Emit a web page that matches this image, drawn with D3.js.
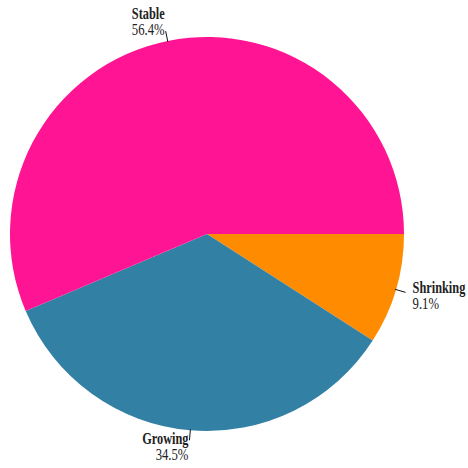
<!DOCTYPE html>
<html>
<head>
<meta charset="utf-8">
<script src="https://cdn.jsdelivr.net/npm/d3@7"></script>
<style>
  html, body { margin: 0; padding: 0; background: #fff; }
  svg { display: block; }
  .name { font-family: "Liberation Serif", serif; font-weight: bold; font-size: 16px; fill: #222; }
  .pct { font-family: "Liberation Serif", serif; font-size: 16.5px; fill: #222; }
</style>
</head>
<body>
<svg id="chart" width="468" height="468"></svg>
<script>
// Share of items by trend
const categories = ["Shrinking", "Growing", "Stable"];
const shares = [9.1, 34.5, 56.4];
const colors = ["#FF8C00", "#3380A5", "#FF1493"];

const width = 468, height = 468;
const cx = 207, cy = 234, radius = 197;

const svg = d3.select("#chart");
const g = svg.append("g").attr("transform", `translate(${cx},${cy})`);

const data = categories.map((c, i) => ({ category: c, value: shares[i], color: colors[i] }));

const pie = d3.pie()
  .value(d => d.value)
  .sort(null)
  .startAngle(Math.PI / 2)
  .endAngle(Math.PI / 2 + 2 * Math.PI);

const arc = d3.arc().innerRadius(0).outerRadius(radius);
const arcs = pie(data);

g.selectAll("path.slice")
  .data(arcs)
  .join("path")
  .attr("class", "slice")
  .attr("d", arc)
  .attr("fill", d => d.data.color);

// leader lines and condensed labels
const lineIn = radius - 1, lineOut = radius + 10;
arcs.forEach(a => {
  const mid = (a.startAngle + a.endAngle) / 2;
  const ux = Math.sin(mid), uy = -Math.cos(mid);
  const x1 = ux * lineIn, y1 = uy * lineIn;
  const x2 = ux * lineOut, y2 = uy * lineOut;
  g.append("line")
    .attr("x1", x1).attr("y1", y1).attr("x2", x2).attr("y2", y2)
    .attr("stroke", "#111").attr("stroke-width", 1);

  const side = Math.abs(ux) > 0.5 ? (ux > 0 ? 1 : -1) : 0;
  let tx, anchor;
  if (side === 1) { tx = x2 + 7; anchor = "start"; }
  else if (side === -1) { tx = x2 - 7; anchor = "end"; }
  else { tx = x2 - 1; anchor = "end"; }
  const base = y2 + (uy < -0.5 ? -12 : uy > 0.5 ? 4 : 1);

  const t = g.append("text")
    .attr("text-anchor", anchor)
    .attr("transform", `translate(${tx},${base}) scale(0.77,1)`);
  t.append("tspan").attr("class", "name").attr("x", 0).attr("y", 0).text(a.data.category);
  t.append("tspan").attr("class", "pct").attr("x", 0).attr("y", 16).text(d3.format(".1f")(a.data.value) + "%");
});
</script>
</body>
</html>
